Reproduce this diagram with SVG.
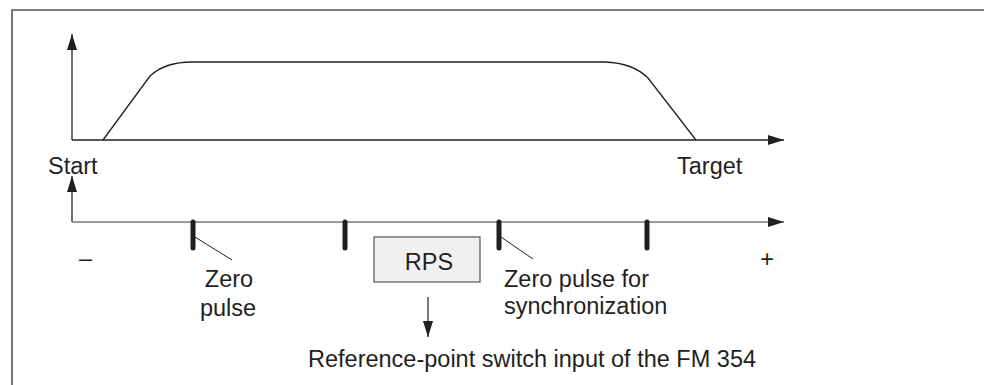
<svg xmlns="http://www.w3.org/2000/svg" width="984" height="385" viewBox="0 0 984 385">
<style>
text{font-family:"Liberation Sans",Arial,sans-serif;font-size:23.5px;fill:#231f20}
.ax{stroke:#231f20;stroke-width:1.3;fill:none}
.ax2{stroke:#777;stroke-width:1.6;fill:none}
.tick{stroke:#231f20;stroke-width:5;stroke-linecap:round}
.lead{stroke:#231f20;stroke-width:1}
</style>
<defs>
<marker id="ah" viewBox="0 0 16 10" refX="16" refY="5" markerWidth="16" markerHeight="10" markerUnits="userSpaceOnUse" orient="auto">
<path d="M0,0 L16,5 L0,10 Z" fill="#231f20"/>
</marker>
</defs>
<g id="frame"><path d="M12,385 V10 H984" fill="none" stroke="#555" stroke-width="1.6"/></g>
<g id="connectors">
<path class="ax" d="M72,140 V34" marker-end="url(#ah)"/>
<path class="ax" d="M72,140 H784" marker-end="url(#ah)"/>
<path class="ax" d="M103,140 L150,76 Q165,62 192,62 H605 Q633,63 648,78 L696,140" stroke-width="1.4"/>
<path class="ax" d="M72,222 V176" marker-end="url(#ah)"/>
<path class="ax2" d="M72,222 H784" marker-end="url(#ah)"/>
<line class="tick" x1="193" y1="222" x2="193" y2="248"/>
<line class="tick" x1="345" y1="222" x2="345" y2="248"/>
<line class="tick" x1="499" y1="222" x2="499" y2="248"/>
<line class="tick" x1="647" y1="222" x2="647" y2="248"/>
<line class="lead" x1="195" y1="237" x2="232" y2="260"/>
<line class="lead" x1="501" y1="237" x2="533" y2="259"/>
<path d="M428,297 V337" stroke="#231f20" stroke-width="1.2" fill="none" marker-end="url(#ah)"/>
</g>
<g id="labels">
<text x="48" y="174">Start</text>
<text x="677" y="174">Target</text>
<text x="79" y="266">–</text>
<text x="767" y="267" text-anchor="middle">+</text>
<text x="229" y="287" text-anchor="middle">Zero</text>
<text x="228" y="316" text-anchor="middle">pulse</text>
<text x="504" y="287">Zero pulse for</text>
<text x="504" y="314">synchronization</text>
<text x="308" y="367">Reference-point switch input of the FM 354</text>
</g>
<g id="rps">
<rect x="374" y="237" width="106" height="45" fill="#f0f0f0" stroke="#555" stroke-width="1.2"/>
<text x="429" y="270" text-anchor="middle">RPS</text>
</g>
</svg>
